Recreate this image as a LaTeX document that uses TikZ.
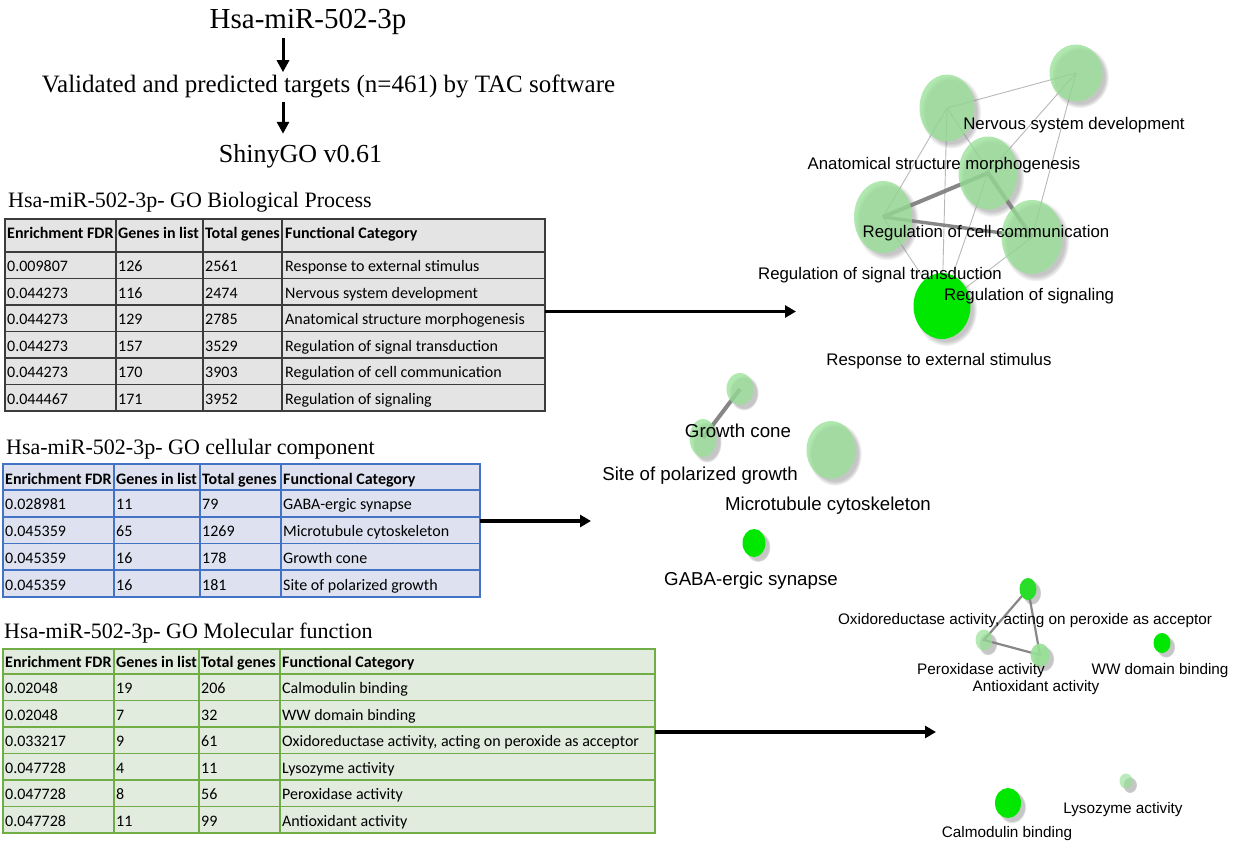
\documentclass[tikz,border=0pt]{standalone}
\usepackage{fontspec}
\setmainfont{Liberation Serif}
\newfontfamily\tabfont{Carlito}
\newfontfamily\netfont{Liberation Sans}
\usetikzlibrary{arrows.meta,shapes.geometric,fadings,shadows}

\definecolor{bpfill}{RGB}{228,228,228}
\definecolor{bpgrid}{RGB}{60,60,60}
\definecolor{ccfill}{RGB}{222,226,240}
\definecolor{ccgrid}{RGB}{68,114,196}
\definecolor{mffill}{RGB}{226,236,222}
\definecolor{mfgrid}{RGB}{112,173,71}
\definecolor{palegreen}{RGB}{150,225,150}
\definecolor{brightgreen}{RGB}{0,232,0}
\definecolor{oxgreen}{RGB}{40,222,40}
\definecolor{thickgray}{RGB}{135,135,135}

\pgfdeclarelayer{edges}
\pgfsetlayers{edges,main}

\begin{document}
\begin{tikzpicture}[x=1pt,y=-1pt,
  hdtext/.style={anchor=base,inner sep=3pt},
  sectitle/.style={anchor=base west,inner sep=0pt,font=\fontsize{22}{26}\selectfont},
  cell/.style={anchor=base west,inner sep=0pt,font=\tabfont\fontsize{16}{19}\selectfont},
  headcell/.style={cell,font=\tabfont\bfseries\fontsize{16}{19}\selectfont},
  hdarrow/.style={-{Triangle[length=12pt,width=12pt]},line width=3pt},
  linkarrow/.style={-{Triangle[length=11pt,width=12pt]},line width=3.2pt},
  bubble/.style={ellipse,inner sep=0pt,circular drop shadow={shadow xshift=3.5pt,shadow yshift=-3.5pt,opacity=0.45}},
  lightbub/.style={bubble,fill=palegreen,fill opacity=0.75},
  brightbub/.style={bubble,fill=brightgreen},
  thinedge/.style={draw=black!28,line width=0.9pt},
  thickedge/.style={draw=thickgray,line width=4pt},
  bplabel/.style={anchor=base,inner sep=0pt,font=\netfont\fontsize{16.8}{20}\selectfont},
  cclabel/.style={bplabel,font=\netfont\fontsize{18.7}{22}\selectfont},
  mflabel/.style={bplabel,font=\netfont\fontsize{15.3}{18}\selectfont}]

  \useasboundingbox (0,0) rectangle (1237,848);

  % header
  \node[hdtext,font=\fontsize{29}{34}\selectfont] (mirna) at (308,29) {Hsa-miR-502-3p};
  \node[hdtext,font=\fontsize{25}{30}\selectfont] (targets) at (328.5,93) {Validated and predicted targets (n=461) by TAC software};
  \node[hdtext,font=\fontsize{26}{31}\selectfont] (shinygo) at (300.5,163) {ShinyGO v0.61};
  \coordinate (axis) at (283,0);
  \draw[hdarrow] (mirna.south -| axis) -- (targets.north -| axis);
  \draw[hdarrow,shorten >=8pt] (targets.south -| axis) -- (shinygo.north -| axis);

  % GO biological process table
  \node[sectitle] (bp-title) at (8,207) {Hsa-miR-502-3p- GO Biological Process};
  \fill[bpfill] (5,219) rectangle (545,411);
  \foreach \y in {252,278.5,305,331.5,358,384.5}
    \draw[bpgrid,line width=1.3pt] (5,\y) -- (545,\y);
  \foreach \x in {116,203,282}
    \draw[bpgrid,line width=1.3pt] (\x,219) -- (\x,411);
  \draw[bpgrid,line width=1.3pt] (5,219) rectangle (545,411);
  \foreach \x/\t [count=\j] in {7/Enrichment FDR,118/Genes in list,205/Total genes,285/Functional Category}
    \node[headcell] (bp-h\j) at (\x,238) {\t};
  \foreach \fdr/\gl/\tg/\cat [count=\i] in {0.009807/126/2561/Response to external stimulus,
      0.044273/116/2474/Nervous system development,
      0.044273/129/2785/Anatomical structure morphogenesis,
      0.044273/157/3529/Regulation of signal transduction,
      0.044273/170/3903/Regulation of cell communication,
      0.044467/171/3952/Regulation of signaling} {
    \node[cell] (bp-\i-1) at (7,{252+26.5*\i-7}) {\fdr};
    \node[cell] (bp-\i-2) at (118,{252+26.5*\i-7}) {\gl};
    \node[cell] (bp-\i-3) at (205,{252+26.5*\i-7}) {\tg};
    \node[cell] (bp-\i-4) at (285,{252+26.5*\i-7}) {\cat};
  }
  \coordinate (bp-out) at (545,311.5);
  \coordinate (bp-in) at (796,311.5);
  \draw[linkarrow] (bp-out) -- (bp-in);

  % GO cellular component table
  \node[sectitle] (cc-title) at (6,454) {Hsa-miR-502-3p- GO cellular component};
  \fill[ccfill] (3,464) rectangle (480,597);
  \foreach \y in {490,517,543.5,570}
    \draw[ccgrid,line width=1.3pt] (3,\y) -- (480,\y);
  \foreach \x in {114,200,281}
    \draw[ccgrid,line width=1.3pt] (\x,464) -- (\x,597);
  \draw[ccgrid,line width=1.3pt] (3,464) rectangle (480,597);
  \foreach \x/\t [count=\j] in {5/Enrichment FDR,116/Genes in list,202/Total genes,283/Functional Category}
    \node[headcell] (cc-h\j) at (\x,484) {\t};
  \foreach \fdr/\gl/\tg/\cat [count=\i] in {0.028981/11/79/GABA-ergic synapse,
      0.045359/65/1269/Microtubule cytoskeleton,
      0.045359/16/178/Growth cone,
      0.045359/16/181/Site of polarized growth} {
    \node[cell] (cc-\i-1) at (5,{490+26.75*\i-7}) {\fdr};
    \node[cell] (cc-\i-2) at (116,{490+26.75*\i-7}) {\gl};
    \node[cell] (cc-\i-3) at (202,{490+26.75*\i-7}) {\tg};
    \node[cell] (cc-\i-4) at (283,{490+26.75*\i-7}) {\cat};
  }
  \coordinate (cc-out) at (480,521);
  \coordinate (cc-in) at (591,521);
  \draw[linkarrow] (cc-out) -- (cc-in);

  % GO molecular function table
  \node[sectitle] (mf-title) at (4,638) {Hsa-miR-502-3p- GO Molecular function};
  \fill[mffill] (3,649) rectangle (655,833);
  \foreach \y in {674,700.5,727,753.5,780,806.5}
    \draw[mfgrid,line width=1.3pt] (3,\y) -- (655,\y);
  \foreach \x in {114,199,280}
    \draw[mfgrid,line width=1.3pt] (\x,649) -- (\x,833);
  \draw[mfgrid,line width=1.3pt] (3,649) rectangle (655,833);
  \foreach \x/\t [count=\j] in {5/Enrichment FDR,116/Genes in list,201/Total genes,282/Functional Category}
    \node[headcell] (mf-h\j) at (\x,667) {\t};
  \foreach \fdr/\gl/\tg/\cat [count=\i] in {0.02048/19/206/Calmodulin binding,
      0.02048/7/32/WW domain binding,
      0.033217/9/61/{Oxidoreductase activity, acting on peroxide as acceptor},
      0.047728/4/11/Lysozyme activity,
      0.047728/8/56/Peroxidase activity,
      0.047728/11/99/Antioxidant activity} {
    \node[cell] (mf-\i-1) at (5,{674+26.5*\i-7}) {\fdr};
    \node[cell] (mf-\i-2) at (116,{674+26.5*\i-7}) {\gl};
    \node[cell] (mf-\i-3) at (201,{674+26.5*\i-7}) {\tg};
    \node[cell] (mf-\i-4) at (282,{674+26.5*\i-7}) {\cat};
  }
  \coordinate (mf-out) at (655,732);
  \coordinate (mf-in) at (936,732);
  \draw[linkarrow] (mf-out) -- (mf-in);

  % biological process network
  \node[lightbub,minimum width=53pt,minimum height=57pt] (nerv) at (1076,73) {};
  \node[lightbub,minimum width=55pt,minimum height=67pt] (anat) at (947,108) {};
  \node[lightbub,minimum width=59pt,minimum height=73pt] (cellcomm) at (988,173) {};
  \node[lightbub,minimum width=58pt,minimum height=72pt] (sigtrans) at (883,217) {};
  \node[lightbub,minimum width=61pt,minimum height=74pt] (signaling) at (1032,237) {};
  \node[brightbub,minimum width=57pt,minimum height=66pt] (response) at (942,306) {};
  \begin{pgfonlayer}{edges}
    \foreach \a/\b in {anat/nerv,anat/sigtrans,anat/response,anat/signaling,nerv/cellcomm,
        nerv/signaling,sigtrans/response,cellcomm/response,signaling/response}
      \draw[thinedge] (\a.center) -- (\b.center);
    \draw[thickedge] (sigtrans.center) -- (cellcomm.center) -- (signaling.center);
    \draw[thickedge,line width=3.4pt] (sigtrans.center) -- (signaling.center);
  \end{pgfonlayer}
  \node[bplabel] (nerv-l) at (1074,130) {Nervous system development};
  \node[bplabel] (anat-l) at (944,169) {Anatomical structure morphogenesis};
  \node[bplabel] (cellcomm-l) at (986,237) {Regulation of cell communication};
  \node[bplabel] (sigtrans-l) at (880,279) {Regulation of signal transduction};
  \node[bplabel] (signaling-l) at (1029,300) {Regulation of signaling};
  \node[bplabel] (response-l) at (939,365) {Response to external stimulus};

  % cellular component network
  \node[lightbub,minimum width=27pt,minimum height=32pt] (cone) at (740,389) {};
  \node[lightbub,minimum width=27pt,minimum height=38pt] (polar) at (703,438) {};
  \node[lightbub,minimum width=49pt,minimum height=58pt] (micro) at (831,450) {};
  \node[brightbub,minimum width=23pt,minimum height=28pt] (gaba) at (754,543) {};
  \begin{pgfonlayer}{edges}
    \draw[thickedge] (cone.center) -- (polar.center);
  \end{pgfonlayer}
  \node[cclabel] (cone-l) at (738,437) {Growth cone};
  \node[cclabel] (polar-l) at (700,480) {Site of polarized growth};
  \node[cclabel] (micro-l) at (828,510) {Microtubule cytoskeleton};
  \node[cclabel] (gaba-l) at (751,585) {GABA-ergic synapse};

  % molecular function network
  \node[bubble,fill=oxgreen,minimum width=17pt,minimum height=22pt] (oxido) at (1028,589) {};
  \node[lightbub,fill opacity=0.7,minimum width=17pt,minimum height=21pt] (perox) at (984,640) {};
  \node[lightbub,fill opacity=0.9,minimum width=19pt,minimum height=23pt] (antiox) at (1040,655) {};
  \node[brightbub,minimum width=17pt,minimum height=20pt] (ww) at (1162,643) {};
  \node[lightbub,fill opacity=0.65,minimum width=13pt,minimum height=15pt] (lyso) at (1126,781) {};
  \node[brightbub,minimum width=26pt,minimum height=30pt] (calmod) at (1008,803) {};
  \begin{pgfonlayer}{edges}
    \draw[thickedge,line width=2.2pt] (oxido.center) -- (perox.center) -- (antiox.center) -- cycle;
  \end{pgfonlayer}
  \node[mflabel] (oxido-l) at (1025,624) {Oxidoreductase activity, acting on peroxide as acceptor};
  \node[mflabel] (perox-l) at (981,674) {Peroxidase activity};
  \node[mflabel] (antiox-l) at (1036,691) {Antioxidant activity};
  \node[mflabel] (ww-l) at (1160,674) {WW domain binding};
  \node[mflabel] (lyso-l) at (1123,813) {Lysozyme activity};
  \node[mflabel] (calmod-l) at (1007,837) {Calmodulin binding};
\end{tikzpicture}
\end{document}
